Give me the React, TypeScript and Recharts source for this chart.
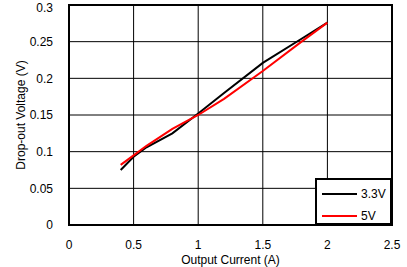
import React from "react";
import {
  CartesianGrid,
  Legend,
  Line,
  LineChart,
  ReferenceArea,
  XAxis,
  YAxis
} from "recharts";

// output current (A)
const currents = [0.4, 0.5, 0.6, 0.8, 1.0, 1.2, 1.5, 1.8, 2.0];
// drop-out voltage (V)
const dropout33 = [0.075, 0.093, 0.106, 0.125, 0.152, 0.18, 0.221, 0.254, 0.276];
const dropout5 = [0.082, 0.095, 0.108, 0.131, 0.15, 0.172, 0.21, 0.25, 0.276];

const xTicks = [0, 0.5, 1, 1.5, 2, 2.5];
const yTicks = [0, 0.05, 0.1, 0.15, 0.2, 0.25, 0.3];

const seriesNames = ["3.3V", "5V"];
const seriesColors = ["#000000", "#ff0000"];

const font = "'Liberation Sans', Arial, sans-serif";

const data = currents.map((x, i) => ({ x, v33: dropout33[i], v5: dropout5[i] }));

const fmt = (v: number) => String(v);

const LegendBox = () => (
  <div
    style={{
      boxSizing: "border-box",
      width: "100%",
      height: "100%",
      border: "2px solid #000",
      background: "#fff",
      fontFamily: font,
      fontSize: 12,
      color: "#000",
      padding: "3px 0 0 5px"
    }}
  >
    {seriesNames.map((name, i) => (
      <div key={name} style={{ display: "flex", alignItems: "center", height: 22 }}>
        <span
          style={{
            display: "inline-block",
            width: 35,
            height: 2,
            background: seriesColors[i],
            marginRight: 4
          }}
        />
        <span>{name}</span>
      </div>
    ))}
  </div>
);

export default function App() {
  return (
    <div style={{ position: "absolute", left: 0, top: 0, width: 407, height: 267, background: "#fff" }}>
      <LineChart
        width={407}
        height={267}
        data={data}
        margin={{ top: 5, right: 15, left: 0, bottom: 0 }}
      >
        <CartesianGrid stroke="#000" strokeWidth={1} />
        <XAxis
          dataKey="x"
          type="number"
          domain={[0, 2.5]}
          ticks={xTicks}
          tickFormatter={fmt}
          height={42}
          axisLine={false}
          tickLine={false}
          tickMargin={9}
          tick={{ fill: "#000", fontSize: 12, fontFamily: font }}
          label={{
            value: "Output Current (A)",
            position: "insideBottom",
            offset: 3,
            fill: "#000",
            fontSize: 12,
            fontFamily: font
          }}
        />
        <YAxis
          type="number"
          domain={[0, 0.3]}
          ticks={yTicks}
          tickFormatter={fmt}
          width={69}
          axisLine={false}
          tickLine={false}
          tickMargin={10}
          tick={{ fill: "#000", fontSize: 12, fontFamily: font }}
          label={{
            value: "Drop-out Voltage (V)",
            angle: -90,
            position: "insideLeft",
            offset: 21,
            style: { textAnchor: "middle" },
            fill: "#000",
            fontSize: 12,
            fontFamily: font
          }}
        />
        <ReferenceArea
          x1={0}
          x2={2.5}
          y1={0}
          y2={0.3}
          fill="none"
          stroke="#000"
          strokeWidth={2}
          ifOverflow="visible"
        />
        <Line
          dataKey="v33"
          name={seriesNames[0]}
          stroke={seriesColors[0]}
          strokeWidth={2}
          dot={false}
          isAnimationActive={false}
        />
        <Line
          dataKey="v5"
          name={seriesNames[1]}
          stroke={seriesColors[1]}
          strokeWidth={2}
          dot={false}
          isAnimationActive={false}
        />
        <Legend
          layout="vertical"
          align="center"
          verticalAlign="middle"
          content={<LegendBox />}
          wrapperStyle={{ left: 315, top: 178, width: 77, height: 47 }}
        />
      </LineChart>
    </div>
  );
}
